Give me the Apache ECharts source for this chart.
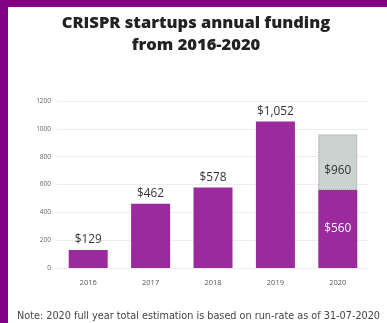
<!DOCTYPE html>
<html><head><meta charset="utf-8">
<script src="https://cdn.jsdelivr.net/npm/echarts@6/dist/echarts.min.js"></script>
<style>html,body{margin:0;padding:0;background:#fff}#c{width:387px;height:323px}</style>
</head><body><div id="c"></div>
<script>
const years = ['2016','2017','2018','2019','2020'];
const funding = [129, 462, 578, 1052, 560];
const estimatedTotal = [null, null, null, null, 960];
const yTicks = [0, 200, 400, 600, 800, 1000, 1200];

const remainder = estimatedTotal.map((t, i) => t == null ? null : t - funding[i]);
const fmt = v => '$' + v.toLocaleString('en-US');

const chart = echarts.init(document.getElementById('c'));
chart.setOption({
  backgroundColor: '#ffffff',
  animation: false,
  graphic: [
    {type: 'rect', left: 0, top: 0, shape: {width: 8, height: 323}, style: {fill: '#820082'}, z: 10},
    {type: 'rect', left: 0, top: 0, shape: {width: 387, height: 7}, style: {fill: '#820082'}, z: 10}
  ],
  title: [
    {text: 'CRISPR startups annual funding\nfrom 2016-2020', left: 191, top: 7, textAlign: 'center',
     textStyle: {fontFamily: 'Open Sans', fontWeight: 800, fontSize: 16.5, lineHeight: 22, color: '#222'}},
    {text: 'Note: 2020 full year total estimation is based on run-rate as of 31-07-2020', left: 12, top: 306,
     textStyle: {fontFamily: 'DejaVu Sans', fontWeight: 'normal', fontSize: 9.7, color: '#444'}}
  ],
  grid: {left: 57, right: 18, top: 101, bottom: 55},
  xAxis: {
    type: 'category', data: years,
    axisLine: {show: false}, axisTick: {show: false},
    axisLabel: {margin: 11, fontSize: 7.5, color: '#555', fontFamily: 'Open Sans'}
  },
  yAxis: {
    type: 'value', min: yTicks[0], max: yTicks[yTicks.length - 1], interval: 200,
    axisLine: {show: false}, axisTick: {show: false},
    axisLabel: {margin: 6, fontSize: 6.5, color: '#666', fontFamily: 'Open Sans', formatter: v => String(v)},
    splitLine: {lineStyle: {color: '#eeeeee', width: 1}}
  },
  series: [
    {
      type: 'bar', stack: 'a', barCategoryGap: '37.5%',
      data: funding.map((v, i) => estimatedTotal[i] == null ? v :
        {value: v, label: {position: 'inside', color: '#ffffff'}}),
      itemStyle: {color: '#9b2a9d'},
      label: {
        show: true, position: 'top', distance: 4, fontSize: 11.8, color: '#333', fontFamily: 'Open Sans',
        formatter: p => fmt(p.value)
      }
    },
    {
      type: 'bar', stack: 'a', data: remainder,
      itemStyle: {color: '#cbd3d1', borderColor: '#8c9391', borderWidth: 1, borderType: 'dotted'},
      label: {
        show: true, position: 'inside', offset: [0, 8], fontSize: 11.8, color: '#333', fontFamily: 'Open Sans',
        formatter: p => p.value == null ? '' : fmt(estimatedTotal[p.dataIndex])
      }
    }
  ]
});
</script>
</body></html>
